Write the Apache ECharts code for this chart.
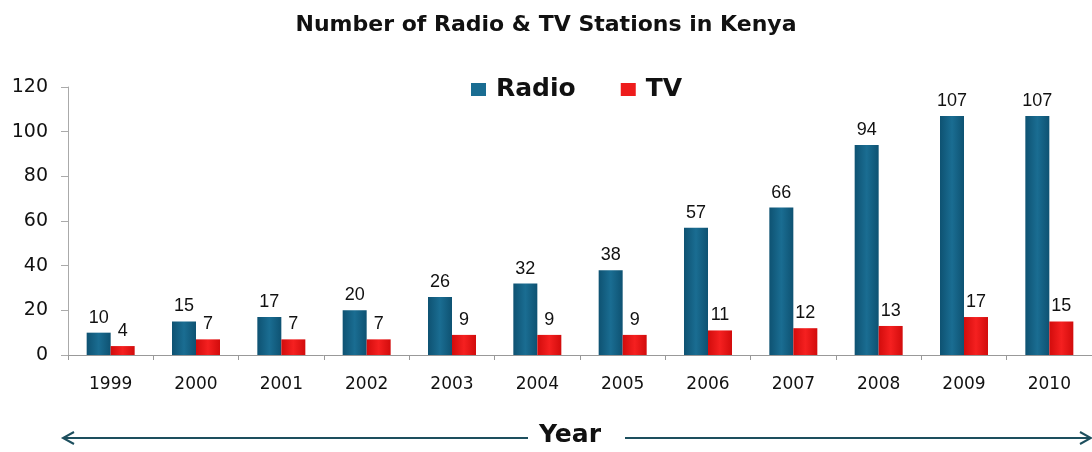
<!DOCTYPE html>
<html><head><meta charset="utf-8">
<script src="https://cdn.jsdelivr.net/npm/echarts@6/dist/echarts.min.js"></script>
<style>html,body{margin:0;padding:0;background:#fff}#c{width:1092px;height:452px}</style>
</head><body><div id="c"></div>
<script>
const years = ['1999','2000','2001','2002','2003','2004','2005','2006','2007','2008','2009','2010'];
const radio = [10,15,17,20,26,32,38,57,66,94,107,107];
const tv = [4,7,7,7,9,9,9,11,12,13,17,15];
const yTicks = [0,20,40,60,80,100,120];

const chart = echarts.init(document.getElementById('c'));
const radioColor = new echarts.graphic.LinearGradient(0,0,1,0,[
  {offset:0,color:'#0e5272'},{offset:0.5,color:'#1a6d92'},{offset:1,color:'#0e5272'}]);
const tvColor = new echarts.graphic.LinearGradient(0,0,1,0,[
  {offset:0,color:'#d20c0c'},{offset:0.5,color:'#f52020'},{offset:1,color:'#d20c0c'}]);
const lbl = {show:true,position:'top',color:'#111',fontFamily:'Liberation Sans, Arial',fontSize:18,distance:6};
const wide = 'DejaVu Sans';
chart.setOption({
  animation:false,
  title:{text:'Number of Radio & TV Stations in Kenya',left:'center',top:9,
    textStyle:{fontFamily:wide,fontWeight:'bold',fontSize:22,color:'#111'}},
  legend:{top:72,left:466,itemWidth:15,itemHeight:13,itemGap:45,
    textStyle:{fontFamily:wide,fontWeight:'bold',fontSize:25,color:'#111',padding:[0,0,0,5]},
    data:[{name:'Radio',icon:'rect',itemStyle:{color:'#1a6d92'}},{name:'TV',icon:'rect',itemStyle:{color:'#ee1c1c'}}]},
  grid:{left:68,top:87,width:1032,bottom:97,containLabel:false},
  xAxis:{type:'category',data:years,
    axisLine:{lineStyle:{color:'#999'}},
    axisTick:{show:true,length:5,lineStyle:{color:'#999'}},
    axisLabel:{fontFamily:wide,fontSize:17,color:'#111',margin:21}},
  yAxis:{type:'value',min:0,max:120,interval:20,
    axisLine:{show:true,lineStyle:{color:'#aaa'}},
    axisTick:{show:true,length:7,lineStyle:{color:'#aaa'}},
    splitLine:{show:false},
    axisLabel:{fontFamily:wide,fontSize:19,color:'#111',margin:20,
      formatter:v=>yTicks.includes(v)?String(v):''}},
  series:[
    {name:'Radio',type:'bar',data:radio,barWidth:24,barGap:'0%',itemStyle:{color:radioColor},label:lbl},
    {name:'TV',type:'bar',data:tv,barWidth:24,itemStyle:{color:tvColor},label:lbl}
  ],
  graphic:[
    {type:'text',left:539,top:423,style:{text:'Year',font:'bold 25px "DejaVu Sans"',fill:'#111'}},
    {type:'line',shape:{x1:64,y1:438,x2:528,y2:438},style:{stroke:'#1d4f5e',lineWidth:2}},
    {type:'polyline',shape:{points:[[74,432],[63,438],[74,444]]},style:{stroke:'#1d4f5e',lineWidth:2,fill:null}},
    {type:'line',shape:{x1:625,y1:438,x2:1090,y2:438},style:{stroke:'#1d4f5e',lineWidth:2}},
    {type:'polyline',shape:{points:[[1080,432],[1091,438],[1080,444]]},style:{stroke:'#1d4f5e',lineWidth:2,fill:null}}
  ]
});
</script></body></html>
